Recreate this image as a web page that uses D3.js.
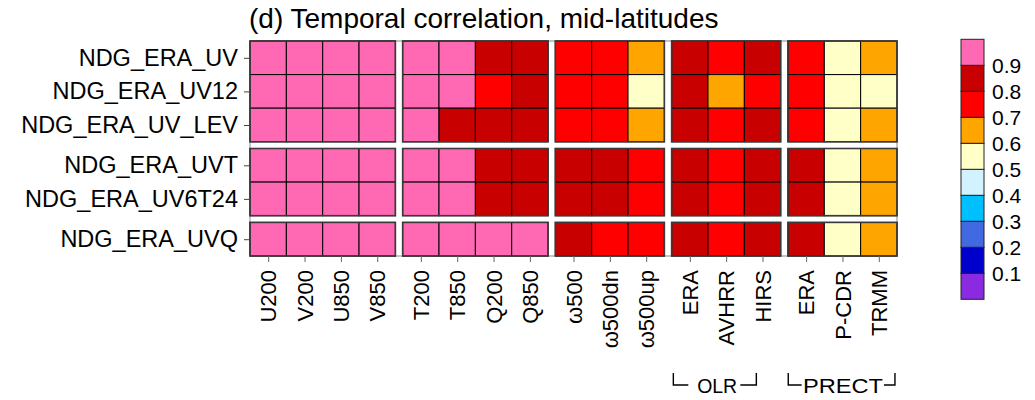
<!DOCTYPE html>
<html>
<head>
<meta charset="utf-8">
<script src="https://cdn.jsdelivr.net/npm/d3@7"></script>
<style>
  body { margin: 0; background: #fff; }
  svg { font-family: "Liberation Sans", Arial, sans-serif; }
</style>
</head>
<body>
<div id="my_dataviz"></div>
<script>
// row / column labels and the group each one belongs to
var rowLabels = ["NDG_ERA_UV", "NDG_ERA_UV12", "NDG_ERA_UV_LEV", "NDG_ERA_UVT", "NDG_ERA_UV6T24", "NDG_ERA_UVQ"];
var rowGroups = [0, 0, 0, 1, 1, 2];

var colLabels = ["U200", "V200", "U850", "V850", "T200", "T850", "Q200", "Q850",
                 "\u03c9500", "\u03c9500dn", "\u03c9500up", "ERA", "AVHRR", "HIRS", "ERA", "P-CDR", "TRMM"];
var colGroups = [0, 0, 0, 0, 1, 1, 1, 1, 2, 2, 2, 3, 3, 3, 4, 4, 4];

// correlation per row (estimated from the colour bins)
var corrUV     = [0.96, 0.95, 0.95, 0.94, 0.95, 0.92, 0.86, 0.83, 0.77, 0.75, 0.66, 0.83, 0.78, 0.82, 0.76, 0.56, 0.64];
var corrUV12   = [0.96, 0.95, 0.95, 0.94, 0.94, 0.91, 0.79, 0.82, 0.76, 0.74, 0.57, 0.81, 0.68, 0.77, 0.74, 0.55, 0.58];
var corrUVLEV  = [0.96, 0.95, 0.94, 0.93, 0.93, 0.88, 0.84, 0.82, 0.77, 0.75, 0.65, 0.83, 0.77, 0.81, 0.76, 0.57, 0.63];
var corrUVT    = [0.97, 0.96, 0.96, 0.95, 0.96, 0.93, 0.86, 0.83, 0.82, 0.81, 0.74, 0.84, 0.78, 0.82, 0.81, 0.58, 0.66];
var corrUV6T24 = [0.97, 0.96, 0.96, 0.95, 0.96, 0.93, 0.86, 0.83, 0.82, 0.81, 0.74, 0.84, 0.78, 0.82, 0.81, 0.58, 0.66];
var corrUVQ    = [0.96, 0.95, 0.95, 0.94, 0.94, 0.92, 0.93, 0.91, 0.81, 0.77, 0.74, 0.83, 0.77, 0.81, 0.81, 0.57, 0.65];
var values = [corrUV, corrUV12, corrUVLEV, corrUVT, corrUV6T24, corrUVQ];

// colour bins (bottom to top) and legend labels
var legendBreaks = [0.1, 0.2, 0.3, 0.4, 0.5, 0.6, 0.7, 0.8, 0.9];
var legendColors = ["#8a2be2", "#0000cd", "#4169e1", "#00bfff", "#d2f2ff",
                    "#ffffc8", "#ffa500", "#ff0000", "#c80000", "#ff69b4"];

var brackets = [{label: "OLR", group: 3}, {label: "PRECT", group: 4}];

var titleText = "(d) Temporal correlation, mid-latitudes";

var width = 1035, height = 400;
var gap = 0.2; // gap between groups, in cell units

var svg = d3.select("#my_dataviz")
  .append("svg")
  .attr("width", width)
  .attr("height", height);

// unit positions including group gaps
var colPos = colLabels.map((d, i) => i + gap * colGroups[i]);
var rowPos = rowLabels.map((d, i) => i + gap * rowGroups[i]);
var nCol = colLabels.length + gap * d3.max(colGroups);
var nRow = rowLabels.length + gap * d3.max(rowGroups);

var x = d3.scaleLinear().domain([0, nCol]).range([250, 897]);
var y = d3.scaleLinear().domain([0, nRow]).range([41, 256]);
var color = d3.scaleThreshold().domain(legendBreaks).range(legendColors);

// title
svg.append("text")
  .attr("x", 249)
  .attr("y", 28)
  .style("font-size", "28px")
  .text(titleText);

// frame
svg.append("rect")
  .attr("x", x(0))
  .attr("y", y(0))
  .attr("width", x(nCol) - x(0))
  .attr("height", y(nRow) - y(0))
  .attr("fill", "white")
  .attr("stroke", "#888")
  .attr("stroke-width", 1);

// cells
var cells = [];
values.forEach((row, r) => row.forEach((v, c) => cells.push({r: r, c: c, v: v})));

svg.selectAll("rect.cell")
  .data(cells)
  .enter()
  .append("rect")
  .attr("class", "cell")
  .attr("x", d => x(colPos[d.c]))
  .attr("y", d => y(rowPos[d.r]))
  .attr("width", x(1) - x(0))
  .attr("height", y(1) - y(0))
  .attr("fill", d => color(d.v))
  .attr("stroke", "#000")
  .attr("stroke-width", 1);

// group outlines
var colGroupIds = d3.range(d3.max(colGroups) + 1);
var rowGroupIds = d3.range(d3.max(rowGroups) + 1);
var blocks = [];
rowGroupIds.forEach(rg => colGroupIds.forEach(cg => blocks.push({rg: rg, cg: cg})));
svg.selectAll("rect.block")
  .data(blocks)
  .enter()
  .append("rect")
  .attr("class", "block")
  .attr("x", d => x(d3.min(colPos.filter((p, i) => colGroups[i] == d.cg))))
  .attr("y", d => y(d3.min(rowPos.filter((p, i) => rowGroups[i] == d.rg))))
  .attr("width", d => x(colGroups.filter(g => g == d.cg).length) - x(0))
  .attr("height", d => y(rowGroups.filter(g => g == d.rg).length) - y(0))
  .attr("fill", "none")
  .attr("stroke", "#3a3a3a")
  .attr("stroke-width", 1.6);

// y axis (row labels)
var yAxis = d3.axisLeft(y)
  .tickValues(rowPos.map(p => p + 0.5))
  .tickFormat((d, i) => rowLabels[i])
  .tickSize(6)
  .tickPadding(6);

var gy = svg.append("g")
  .attr("transform", "translate(" + x(0) + ",0)")
  .call(yAxis);
gy.select(".domain").remove();
gy.selectAll("line").attr("stroke", "#444");
gy.selectAll("text")
  .style("font-size", "23.5px")
  .style("font-family", "Liberation Sans, Arial, sans-serif")
  .attr("fill", "#000");

// x axis (column labels, vertical)
var xAxis = d3.axisBottom(x)
  .tickValues(colPos.map(p => p + 0.5))
  .tickFormat((d, i) => colLabels[i])
  .tickSize(6);

var gx = svg.append("g")
  .attr("transform", "translate(0," + y(nRow) + ")")
  .call(xAxis);
gx.select(".domain").remove();
gx.selectAll("line").attr("stroke", "#666");
gx.selectAll("text")
  .style("font-size", "22px")
  .style("font-family", "Liberation Sans, Arial, sans-serif")
  .attr("fill", "#000")
  .attr("transform", "rotate(-90)")
  .attr("text-anchor", "end")
  .attr("x", -14)
  .attr("y", 0)
  .attr("dy", "0.35em");

// brackets under OLR and PRECT (offsets from the group's left edge)
var bracketLayout = {
  OLR:   {v0: 1.7, h0: 16.7, t0: 25.5, tw: 40, h1: 68.7, v1: 84.7},
  PRECT: {v0: 0.3, h0: 13.7, t0: 15, tw: 80, h1: 96, v1: 107}
};
var brY0 = 373, brY1 = 385;
brackets.forEach(b => {
  var idx = colGroups.map((g, i) => g == b.group ? i : -1).filter(i => i >= 0);
  var gx0 = x(colPos[idx[0]]);
  var L = bracketLayout[b.label];
  svg.append("text")
    .attr("x", gx0 + L.t0)
    .attr("y", 393)
    .attr("textLength", L.tw)
    .attr("lengthAdjust", "spacingAndGlyphs")
    .style("font-size", "21px")
    .text(b.label);
  svg.append("path")
    .attr("d", "M" + (gx0 + L.v0) + "," + brY0 + "V" + brY1 + "H" + (gx0 + L.h0))
    .attr("fill", "none").attr("stroke", "#000").attr("stroke-width", 1.4);
  svg.append("path")
    .attr("d", "M" + (gx0 + L.h1) + "," + brY1 + "H" + (gx0 + L.v1) + "V" + brY0)
    .attr("fill", "none").attr("stroke", "#000").attr("stroke-width", 1.4);
});

// legend (colour bar)
var ly = d3.scaleLinear().domain([0, 1]).range([299.3, 39.3]);
var legendData = legendColors.map((c, i) => ({c: c, lo: i / 10, hi: (i + 1) / 10}));

svg.selectAll("rect.legend")
  .data(legendData)
  .enter()
  .append("rect")
  .attr("class", "legend")
  .attr("x", 961)
  .attr("y", d => ly(d.hi))
  .attr("width", 23)
  .attr("height", d => ly(d.lo) - ly(d.hi))
  .attr("fill", d => d.c)
  .attr("stroke", "#222")
  .attr("stroke-width", 1);

var legendAxis = d3.axisRight(ly)
  .tickValues(legendBreaks)
  .tickFormat(d3.format(".1f"))
  .tickSize(0)
  .tickPadding(8);

var gl = svg.append("g")
  .attr("transform", "translate(984,0)")
  .call(legendAxis);
gl.select(".domain").remove();
gl.selectAll("text")
  .style("font-size", "21px")
  .style("font-family", "Liberation Sans, Arial, sans-serif")
  .attr("fill", "#000");
</script>
</body>
</html>
